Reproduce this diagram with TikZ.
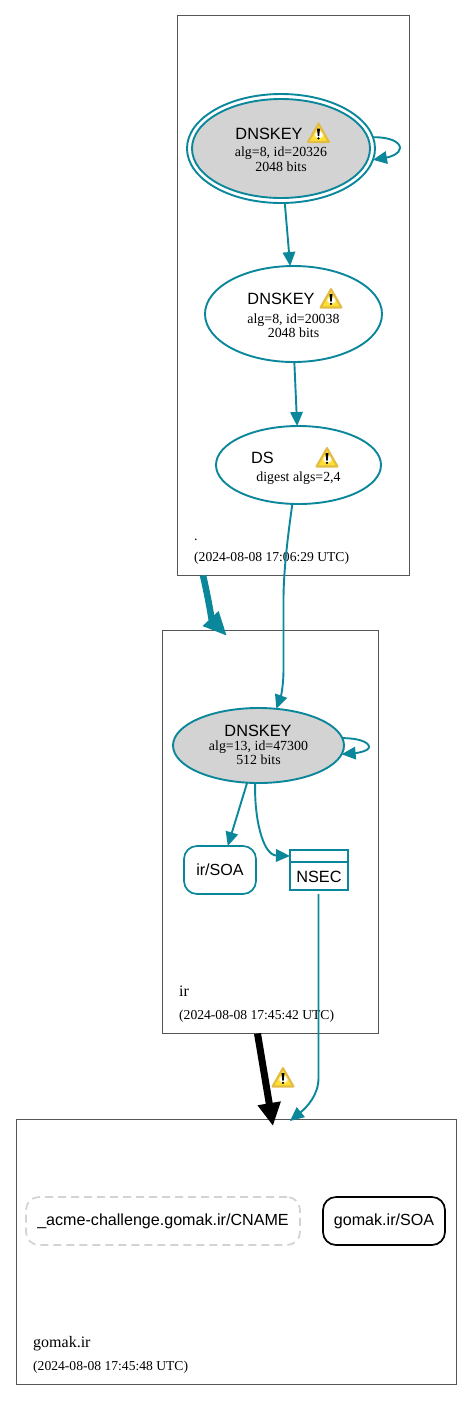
\documentclass[tikz,border=0pt]{standalone}
\usepackage{fontspec}
\setmainfont{Liberation Serif}
\newfontfamily\arialish{Liberation Sans}
\usetikzlibrary{arrows.meta,shapes.geometric,calc}
\definecolor{teal1}{HTML}{0A879A}
\definecolor{fillgray}{HTML}{D3D3D3}
\definecolor{clusterline}{HTML}{555555}
\definecolor{warngold}{HTML}{E3BC45}
\definecolor{warnyellow}{HTML}{FFDF30}
\pgfdeclareradialshading{warnfill}{\pgfpoint{0bp}{-4bp}}{color(0bp)=(white);color(9bp)=(white);color(15bp)=(warnyellow);color(50bp)=(warnyellow)}
\tikzset{
  x=1pt,y=-1pt,
  cluster/.style={draw=clusterline,line width=0.9pt,rectangle,inner sep=0pt,outer sep=0pt,anchor=north west},
  keynode/.style={ellipse,draw=teal1,line width=1.9pt,inner sep=0pt,outer sep=0pt},
  softbox/.style={rectangle,rounded corners=13pt,line width=1.7pt,inner sep=0pt,outer sep=0pt,font=\arialish\fontsize{16.1}{18}\selectfont,text=black},
  title/.style={font=\arialish\fontsize{16.3}{18}\selectfont,anchor=base,inner sep=0pt},
  small/.style={font=\fontsize{13.9}{15}\selectfont,anchor=base,inner sep=0pt},
  stamp/.style={font=\fontsize{13.6}{15}\selectfont,anchor=base west,inner sep=0pt},
  zonename/.style={font=\fontsize{16}{18}\selectfont,anchor=base west,inner sep=0pt},
  link/.style={draw=teal1,line width=1.9pt,-{Triangle[length=14pt,width=12.5pt]}},
  warnicon/.pic={
    \path[fill=warngold,draw=warngold,line width=2pt,line join=round] (0,-9.5)--(10.5,9)--(-10.5,9)--cycle;
    \shade[shading=warnfill] (0,-7)--(8.3,7.8)--(-8.3,7.8)--cycle;
    \path[fill=black] (-1.5,-4.5)--(1.5,-4.5)--(0.7,3)--(-0.7,3)--cycle;
    \path[fill=black] (0,5.3) circle (1.3);
  }
}
\begin{document}
\begin{tikzpicture}
\useasboundingbox (0,0) rectangle (472,1401);
% clusters
\node[cluster,minimum width=232pt,minimum height=560pt] (rootzone) at (177.5,15.5) {};
\node[cluster,minimum width=216pt,minimum height=403pt] (irzone) at (162.5,630.5) {};
\node[cluster,minimum width=440pt,minimum height=265pt] (gomakzone) at (16,1119.5) {};
\node[small,anchor=base west] (rootname) at (194,540) {.};
\node[stamp] (rootstamp) at (194,561) {(2024-08-08 17:06:29 UTC)};
\node[zonename] (irname) at (179,996) {ir};
\node[stamp] (irstamp) at (179,1019.5) {(2024-08-08 17:45:42 UTC)};
\node[zonename] (gomakname) at (33,1347) {gomak.ir};
\node[stamp] (gomakstamp) at (33,1370.5) {(2024-08-08 17:45:48 UTC)};
% root DNSKEY
\node[keynode,minimum width=188pt,minimum height=109pt] (ksk) at (281,148.5) {};
\node[keynode,fill=fillgray,minimum width=178pt,minimum height=99pt] (kskin) at (281,148.5) {};
\node[title] (ksktitle) at (269,139) {DNSKEY};
\node[small] (kskalg) at (281,156.5) {alg=8, id=20326};
\node[small] (kskbits) at (281,171) {2048 bits};
\pic at (318.5,133) {warnicon};
% zsk
\node[keynode,minimum width=177pt,minimum height=96pt] (zsk) at (293.5,314) {};
\node[title] (zsktitle) at (281,304.5) {DNSKEY};
\node[small] (zskalg) at (293.5,323.5) {alg=8, id=20038};
\node[small] (zskbits) at (293.5,337) {2048 bits};
\pic at (331,298.5) {warnicon};
% DS
\node[keynode,minimum width=165pt,minimum height=78pt] (ds) at (298.5,465) {};
\node[title] (dstitle) at (262.5,463) {DS};
\node[small] (dsalg) at (298.5,481) {digest algs=2,4};
\pic at (327,457.5) {warnicon};
% ir DNSKEY
\node[keynode,fill=fillgray,minimum width=171pt,minimum height=75pt] (irkey) at (258.5,745.5) {};
\node[title] (irtitle) at (258,736) {DNSKEY};
\node[small] (iralg) at (258.5,750) {alg=13, id=47300};
\node[small] (irbits) at (258.5,764) {512 bits};
% ir SOA
\node[softbox,draw=teal1,minimum width=72pt,minimum height=48pt] (irsoa) at (220,870) {ir/SOA};
% NSEC
\node[draw=teal1,line width=2.6pt,rectangle,inner sep=0pt,outer sep=0pt,minimum width=58pt,minimum height=40pt] (nsec) at (319,870) {};
\draw[teal1,line width=2.6pt] (nsec.west |- 0,862) -- (nsec.east |- 0,862);
\node[title] (nsectext) at (319,882) {NSEC};
% gomak records
\node[softbox,draw=fillgray,dashed,dash pattern=on 8pt off 5pt,minimum width=274pt,minimum height=48pt] (cname) at (163,1221) {\_acme-challenge.gomak.ir/CNAME};
\node[softbox,draw=black,minimum width=122pt,minimum height=48pt] (gomaksoa) at (384,1221) {gomak.ir/SOA};
% connectors
\draw[link] (ksk.7) .. controls (390,137) and (400,142) .. (400,148) .. controls (400,154) and (390,157) .. (ksk.-7);
\draw[link] (irkey.5) .. controls (358,738) and (369,742) .. (369,747) .. controls (369,751) and (357,753) .. (irkey.-6);
\draw[link] (ksk.274) -- (zsk.94);
\draw[link] (zsk.271) -- (ds.92);
\draw[link] (ds.261) .. controls (288,535) and (283.5,570) .. (283.5,600) -- (283.5,670) .. controls (283.5,685) and (281,696) .. (irkey.64);
\draw[link] (irkey.253) -- (irsoa.72);
\draw[link] (irkey.265) .. controls (254,815) and (262,855) .. (nsec.west |- 0,856);
\coordinate (nsecout) at (318.5,894);
\coordinate (gomaktop) at (290,1121);
\draw[link] (nsecout) -- (318.5,1078) .. controls (318.5,1095) and (307,1107) .. (gomaktop);
% thick zone edges
\coordinate (rootout) at (203,575.5);
\coordinate (irin) at (227,636);
\draw[draw=teal1,line width=6.5pt,-{Triangle[length=24pt,width=20pt]}] (rootout) .. controls (207,592) and (212,620) .. (irin);
\coordinate (irout) at (257.5,1033.5);
\coordinate (gomakin) at (273,1126);
\draw[draw=black,line width=7pt,-{Triangle[length=23pt,width=22pt]}] (irout) -- (gomakin);
\pic at (283,1077.5) {warnicon};
\end{tikzpicture}
\end{document}
